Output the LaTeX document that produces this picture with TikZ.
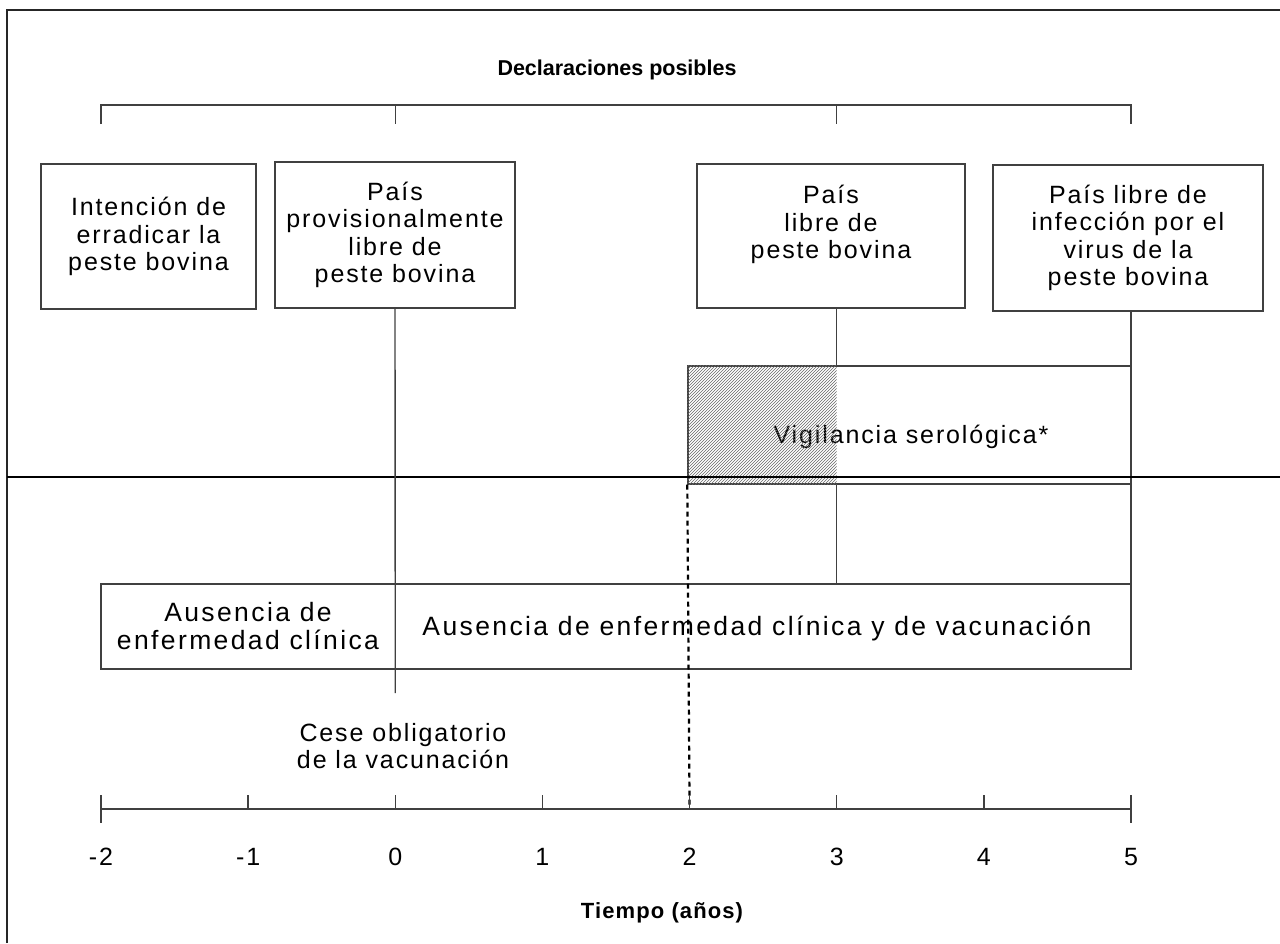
\documentclass[tikz,border=0pt]{standalone}
\usepackage{fontspec}
\setmainfont{Liberation Sans}
\newfontfamily\spacedfont[LetterSpace=7.5]{Liberation Sans}
\newfontfamily\widefont[LetterSpace=9]{Liberation Sans}
\newfontfamily\headfont[LetterSpace=5]{Liberation Sans}
\usetikzlibrary{patterns}

\begin{document}
\begin{tikzpicture}[x=1pt, y=-1pt,
    thinline/.style={line width=1.4pt, draw=black!75},
    box/.style={draw=black!75, line width=1.4pt, align=center, inner sep=0pt,
        font=\spacedfont\fontsize{25}{27.5}\selectfont},
    txt/.style={align=center, font=\spacedfont\fontsize{25}{27.5}\selectfont},
    bigtxt/.style={align=center, font=\widefont\fontsize{26.5}{28.5}\selectfont},
    heading/.style={font=\headfont\bfseries\fontsize{22}{26}\selectfont},
    dashline/.style={line width=2.2pt, dash pattern=on 5pt off 4pt}]
			\useasboundingbox (0,0) rectangle (1280,943);

			% Draw the frame
			\draw[line width=2.8pt, black!85] (7,943) -- (7,10) -- (1280,10);

			% Points of the time axis
			\foreach \i in {-2,...,5}
				\coordinate (t\i) at ({101+147.143*(\i+2)}, 809);

			% Title and the bracket over the declarations
			\node[font=\bfseries\fontsize{21.5}{26}\selectfont] (title) at (617,70) {Declaraciones posibles};
			\draw[thinline] (t-2 |- 0,124) -- (t-2 |- 0,105) -- (t5 |- 0,105) -- (t5 |- 0,124);
			\foreach \i in {0,3}
				\draw[thinline] (t\i |- 0,105) -- (t\i |- 0,124);

			% Draw the boxes of the declarations
			\node[box, minimum width=215pt, minimum height=145pt] (intencion) at (148.5,236.5) {Intención de\\erradicar la\\peste bovina};
			\node[box, minimum width=240pt, minimum height=146pt] (provisional) at (395,235) {País\\provisionalmente\\libre de\\peste bovina};
			\node[box, minimum width=268pt, minimum height=144pt] (libre) at (831,236) {País\\libre de\\peste bovina\\\mbox{}};
			\node[box, minimum width=270pt, minimum height=146pt] (librevirus) at (1128,238) {País libre de\\infección por el\\virus de la\\peste bovina};

			% Serological surveillance
			\node[box, minimum width=443pt, minimum height=118pt] (vigilancia) at (909.5,425) {};
			\node[txt] (vigtext) at (911,437) {Vigilancia serológica*};
			\fill[pattern=north east lines, pattern color=black!60] (vigilancia.north west) rectangle (vigilancia.south -| t3);

			% Thick line across the picture
			\draw[line width=2.5pt] (7,477) -- (1280,477);

			% Absence of disease
			\node[box, minimum width=1030pt, minimum height=85pt] (ausencia) at (616,626.5) {};
			\node[bigtxt] (sinclinica) at (248,626) {Ausencia de\\enfermedad clínica};
			\node[bigtxt] (sinvacuna) at (757,628) {Ausencia de enfermedad clínica y de vacunación};

			% Draw the vertical links
			\coordinate (cese) at (t0 |- 0,693);
			\draw[thinline] (provisional.south) -- (cese);
			\draw[thinline] (libre.south -| t3) -- (vigilancia.north -| t3);
			\draw[thinline] (librevirus.south -| t5) -- (vigilancia.north -| t5);
			\draw[thinline] (vigilancia.south -| t3) -- (ausencia.north -| t3);
			\draw[thinline] (vigilancia.south -| t5) -- (ausencia.north -| t5);
			\draw[dashline] (vigilancia.south west) -- (t2);

			\node[txt] (cesetext) at (403,746) {Cese obligatorio\\de la vacunación};

			% Draw the time axis
			\draw[thinline] (t-2) -- (t5);
			\foreach \i in {-2,...,5} {
				\draw[thinline] (t\i) -- ++(0,-14);
				\node[txt] (n\i) at (t\i |- 0,857) {\i};
			}
			\draw[thinline] (t-2) -- ++(0,14);
			\draw[thinline] (t5) -- ++(0,14);

			\node[heading] (tiempo) at (662,913) {Tiempo (años)};

		\end{tikzpicture}
\end{document}
